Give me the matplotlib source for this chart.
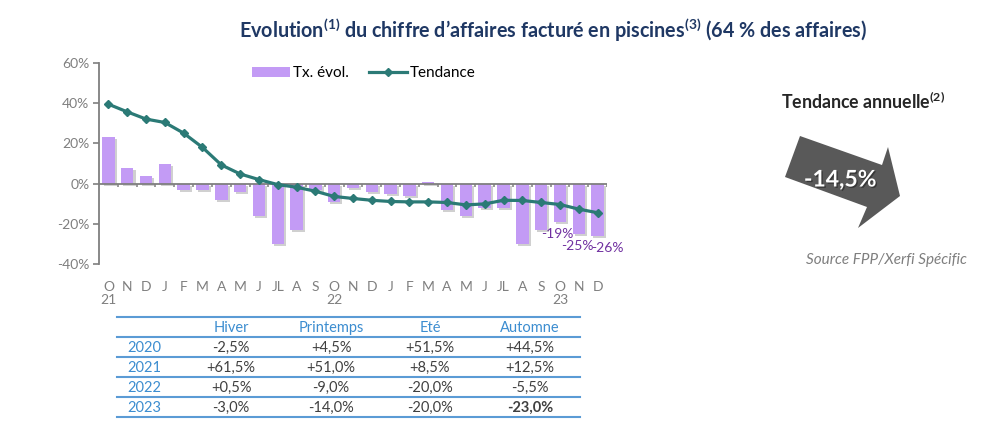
import matplotlib.pyplot as plt
import matplotlib.patheffects as pe
from matplotlib.patches import Polygon, Patch
from matplotlib.lines import Line2D

plt.rcParams['font.family'] = ['Lato', 'DejaVu Sans']
plt.rcParams['mathtext.fontset'] = 'custom'
plt.rcParams['mathtext.rm'] = 'Lato:bold'
plt.rcParams['mathtext.bf'] = 'Lato:bold'

# monthly data, Oct 2021 -> Dec 2023
months = ["O", "N", "D", "J", "F", "M", "A", "M", "J", "JL", "A", "S",
          "O", "N", "D", "J", "F", "M", "A", "M", "J", "JL", "A", "S",
          "O", "N", "D"]
years = {0: "21", 12: "22", 24: "23"}
taux = [23, 8, 4, 10, -3, -3, -8, -4, -16, -30, -23, -3,
        -9, -2, -4, -5, -6, 1, -13, -16, -12, -12, -30, -23,
        -19, -25, -26]
tendance = [39.5, 35.7, 32.1, 30.4, 25.1, 18.0, 9.3, 4.8, 2.0, -0.5, -1.8, -3.8,
            -6.4, -7.4, -8.3, -8.9, -9.1, -9.1, -9.4, -10.6, -10.1, -8.3, -8.4, -9.4,
            -10.4, -12.7, -14.5]
bar_labels = {24: "-19%", 25: "-25%", 26: "-26%"}
label_dx = {24: -2, 25: -1, 26: 7}

# seasonal table
seasons = ["Hiver", "Printemps", "Eté", "Automne"]
table_years = ["2020", "2021", "2022", "2023"]
table_vals = [["-2,5%", "+4,5%", "+51,5%", "+44,5%"],
              ["+61,5%", "+51,0%", "+8,5%", "+12,5%"],
              ["+0,5%", "-9,0%", "-20,0%", "-5,5%"],
              ["-3,0%", "-14,0%", "-20,0%", "-23,0%"]]

annual_trend = "-14,5%"

W, H = 1000, 447
PURPLE = "#C39BF5"
TEAL = "#2B7A76"
GREY = "#7F7F7F"
BLUE = "#5B9BD5"


def fx(x):
    return x / W


def fy(y):
    return 1 - y / H


fig = plt.figure(figsize=(10, 4.47), dpi=100)
ax = fig.add_axes([fx(99), fy(264), 508 / W, 201 / H])

x = list(range(len(months)))
shadow = [pe.SimplePatchShadow(offset=(1.5, -1.5), shadow_rgbFace="#666666", alpha=0.3), pe.Normal()]
bars = ax.bar(x, taux, width=0.66, color=PURPLE, zorder=2)
for b in bars:
    b.set_path_effects(shadow)

line, = ax.plot(x, tendance, color=TEAL, lw=2.3, marker="D", ms=4.5, zorder=4, label="Tendance")

for i, txt in bar_labels.items():
    ax.annotate(txt, (i, taux[i]), xytext=(label_dx[i], -9), textcoords="offset points",
                ha="center", va="center", fontsize=10, color="#7030A0")

ax.set_xlim(-0.5, len(months) - 0.5)
ax.set_ylim(-40, 60)
ax.set_yticks([-40, -20, 0, 20, 40, 60])
ax.set_yticklabels([f"{v}%" for v in [-40, -20, 0, 20, 40, 60]])
ax.tick_params(axis="y", colors=GREY, labelsize=10, length=4, width=1.2, pad=3)

ax.set_xticks(x)
ax.set_xticklabels([m + ("\n" + years[i] if i in years else "") for i, m in enumerate(months)],
                   va="top", linespacing=1.15)
ax.tick_params(axis="x", length=0, pad=12, labelsize=10, labelcolor=GREY)

for s in ["top", "right", "bottom"]:
    ax.spines[s].set_visible(False)
ax.spines["left"].set_color(GREY)
ax.spines["left"].set_linewidth(1.3)

ax.axhline(0, color=GREY, lw=1.3, zorder=3)
ax.vlines([i + 0.5 for i in x], -1.6, 0, color=GREY, lw=1.1, zorder=3)

bar_handle = Patch(facecolor=PURPLE, edgecolor="none", label="Tx. évol.")
fig.legend(handles=[bar_handle, line], loc="center left", bbox_to_anchor=(fx(238), fy(73)), ncol=2,
           frameon=False, fontsize=11, handlelength=2.5, handletextpad=0.2, columnspacing=1.3,
           handleheight=0.65)

fig.text(fx(553), fy(30), r"Evolution$^{(1)}$ du chiffre d’affaires facturé en piscines$^{(3)}$ (64 % des affaires)",
         ha="center", va="center", fontsize=14.2, fontweight="bold", color="#1F3864")

# annual trend arrow
fig.text(fx(863), fy(101), r"Tendance annuelle$^{(2)}$", ha="center", va="center",
         fontsize=12.8, fontweight="bold", color="#262626")
arrow_px = [(800, 136), (882, 165), (888, 147), (900, 196), (858, 228), (867, 207), (785, 177)]
fig.patches.append(Polygon([(fx(a), fy(b)) for a, b in arrow_px], closed=True,
                           transform=fig.transFigure, facecolor="#595959", edgecolor="none"))
fig.text(fx(840), fy(180), annual_trend, ha="center", va="center", fontsize=16.5,
         fontweight="bold", color="white",
         path_effects=[pe.withSimplePatchShadow(offset=(1, -1), shadow_rgbFace="#222222", alpha=0.6)])
fig.text(fx(886), fy(260), "Source FPP/Xerfi Spécific", ha="center", va="center",
         fontsize=11, style="italic", color=GREY)

# table
col_x = [231, 331, 430, 530]
for yy in [317, 337, 357, 377, 397, 417]:
    fig.add_artist(Line2D([fx(117), fx(580)], [fy(yy), fy(yy)], color=BLUE, lw=1.5))
for cx, s in zip(col_x, seasons):
    fig.text(fx(cx), fy(328), s, ha="center", va="center", fontsize=10.5, color="#3C8DD0")
for r, (yr, row) in enumerate(zip(table_years, table_vals)):
    yy = 348 + 20 * r
    fig.text(fx(127), fy(yy), yr, ha="left", va="center", fontsize=10.5, color="#3C8DD0")
    for c, (cx, v) in enumerate(zip(col_x, row)):
        bold = (r == len(table_vals) - 1 and c == len(row) - 1)
        fig.text(fx(cx), fy(yy), v, ha="center", va="center", fontsize=10.5,
                 color="#404040", fontweight="bold" if bold else "normal")

fig.savefig("out.png", dpi=100)
